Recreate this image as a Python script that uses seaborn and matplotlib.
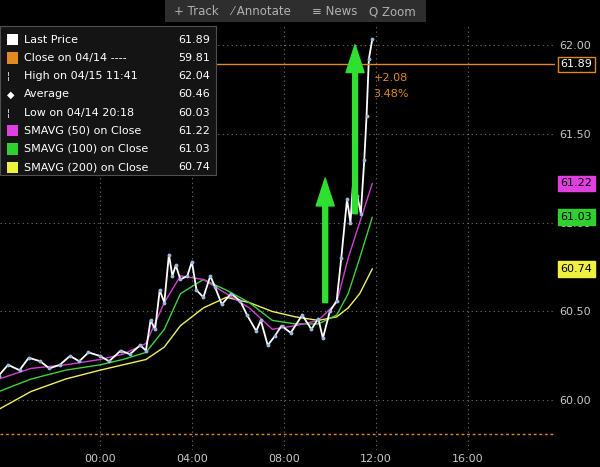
import matplotlib
matplotlib.use("Agg")
import matplotlib.pyplot as plt
import seaborn as sns
import pandas as pd

sns.set_theme(style="dark")
plt.rcParams['font.family'] = ['DejaVu Sans']

price_t = [-4.4,-4.0,-3.5,-3.1,-2.6,-2.2,-1.75,-1.3,-0.9,-0.5,0.0,0.4,0.9,1.3,1.75,2.0,2.2,2.4,2.6,2.8,3.0,3.15,3.3,3.5,3.8,4.0,4.2,4.5,4.8,5.0,5.3,5.7,6.1,6.4,6.8,7.0,7.3,7.6,7.9,8.3,8.8,9.2,9.5,9.7,10.0,10.3,10.5,10.75,10.9,11.05,11.2,11.35,11.5,11.6,11.7,11.85]
price_v = [60.14,60.20,60.17,60.24,60.22,60.18,60.20,60.25,60.22,60.27,60.25,60.22,60.28,60.26,60.31,60.28,60.45,60.40,60.62,60.55,60.82,60.70,60.76,60.68,60.70,60.78,60.62,60.58,60.70,60.64,60.54,60.60,60.56,60.48,60.39,60.45,60.31,60.36,60.42,60.38,60.48,60.40,60.46,60.35,60.50,60.56,60.80,61.13,61.00,61.30,61.15,61.05,61.35,61.60,61.92,62.03]

sma_t = [-4.4,-3,-1.5,0,1,2,2.8,3.5,4.5,5.5,6.5,7.5,8.5,9.5,10.3,10.8,11.3,11.85]
sma50 = [60.12,60.18,60.20,60.23,60.26,60.32,60.55,60.70,60.68,60.60,60.52,60.40,60.42,60.45,60.55,60.80,61.00,61.22]
sma100 = [60.05,60.12,60.17,60.20,60.23,60.27,60.40,60.60,60.68,60.62,60.55,60.45,60.43,60.43,60.48,60.60,60.80,61.03]
sma200 = [59.95,60.05,60.12,60.17,60.20,60.23,60.30,60.42,60.52,60.58,60.55,60.50,60.47,60.45,60.47,60.52,60.60,60.74]

x_ticks = [0, 4, 8, 12, 16]
x_labels = ["00:00", "04:00", "08:00", "12:00", "16:00"]
y_ticks = [60.0, 60.5, 61.0, 61.5, 62.0]
y_labels = ["60.00", "60.50", "61.00", "61.50", "62.00"]

last_price, prev_close = 61.89, 59.81

fig = plt.figure(figsize=(6, 4.67), dpi=100, facecolor="black")
ax = fig.add_axes([0, 0.036, 0.925, 0.91])
ax.set_facecolor("black")

sns.lineplot(x=sma_t, y=sma200, color="#f0f060", lw=1, ax=ax)
sns.lineplot(x=sma_t, y=sma100, color="#40d040", lw=1, ax=ax)
sns.lineplot(x=sma_t, y=sma50, color="#d040d0", lw=1, ax=ax)
sns.lineplot(x=price_t, y=price_v, color="white", lw=1.3, ax=ax)
ax.scatter(price_t, price_v, s=3, color="#9ab8e0", zorder=3)

ax.axhline(last_price, color="#e08a20", lw=1)
ax.axhline(prev_close, color="#e08a20", lw=1, ls=(0, (2, 2)))

for x0, y0, y1 in [(9.8, 60.55, 61.25), (11.1, 61.05, 62.0)]:
    ax.annotate("", xy=(x0, y1), xytext=(x0, y0),
                arrowprops=dict(facecolor="#30e030", edgecolor="#30e030", width=3.5, headwidth=13, headlength=20))

ax.set_xlim(-4.35, 19.8)
ax.set_ylim(59.72, 62.11)
ax.set_xticks(x_ticks, x_labels)
ax.set_yticks(y_ticks, y_labels)
ax.yaxis.tick_right()
ax.tick_params(colors="#c8c8c8", labelsize=8, length=0, pad=3)
ax.grid(True, color="#707070", ls=(0, (1, 3)), lw=0.8)
for s in ax.spines.values():
    s.set_visible(False)
ax.set_xlabel(""); ax.set_ylabel("")

tags = [(last_price, "61.89", "black", "#e08a20", "white"),
        (61.22, "61.22", "#e040e0", "#e040e0", "black"),
        (61.03, "61.03", "#30d030", "#30d030", "black"),
        (60.74, "60.74", "#f0f040", "#f0f040", "black")]
for v, lab, fc, ec, tc in tags:
    ax.text(1.01, v, lab, transform=ax.get_yaxis_transform(), fontsize=8, color=tc, va="center",
            bbox=dict(boxstyle="square,pad=0.25", fc=fc, ec=ec, lw=1))
ax.text(11.9, 61.84, "+2.08", color="#e08a20", fontsize=8, va="top")
ax.text(11.9, 61.75, "3.48%", color="#e08a20", fontsize=8, va="top")

fig.patches.append(plt.Rectangle((0.275, 0.953), 0.435, 0.047, transform=fig.transFigure, fc="#2e2e2e", ec="none"))
for x, t in [(0.29, "+ Track"), (0.385, "⁄ Annotate"), (0.52, "≡ News"), (0.615, "Q Zoom")]:
    fig.text(x, 0.975, t, color="#b0b0b0", fontsize=8.5, va="center")

fig.patches.append(plt.Rectangle((0.0, 0.625), 0.36, 0.32, transform=fig.transFigure, fc="#141414", ec="#505050", lw=0.8))
items = [("Last Price", "61.89", "white"), ("Close on 04/14 ----", "59.81", "#e08a20"),
         ("High on 04/15 11:41", "62.04", None), ("Average", "60.46", None),
         ("Low on 04/14 20:18", "60.03", None), ("SMAVG (50) on Close", "61.22", "#e040e0"),
         ("SMAVG (100) on Close", "61.03", "#30d030"), ("SMAVG (200) on Close", "60.74", "#f0f040")]
for i, (lab, val, c) in enumerate(items):
    y = 0.915 - i * 0.039
    if c:
        fig.patches.append(plt.Rectangle((0.012, y - 0.012), 0.018, 0.024, transform=fig.transFigure, fc=c, ec="none"))
    else:
        fig.text(0.012, y, "¦" if i != 3 else "◆", color="white", fontsize=7, va="center")
    fig.text(0.04, y, lab, color="white", fontsize=8, va="center")
    fig.text(0.35, y, val, color="white", fontsize=8, va="center", ha="right")

fig.savefig("out.png", dpi=100, facecolor="black")
